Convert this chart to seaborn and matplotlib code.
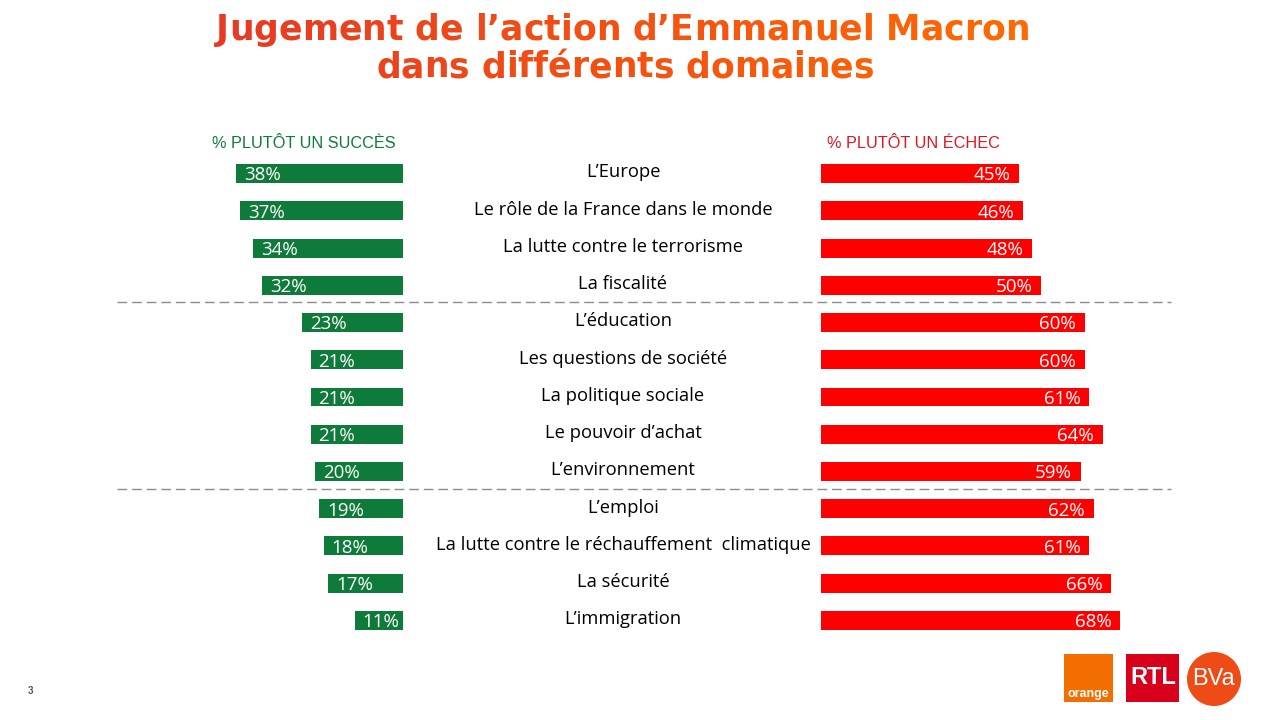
import numpy as np
import pandas as pd
import seaborn as sns
from matplotlib import pyplot as plt
from matplotlib.colors import to_rgb
from matplotlib.patches import Circle, Rectangle
from matplotlib.transforms import blended_transform_factory

categories = ["L’Europe", "Le rôle de la France dans le monde", "La lutte contre le terrorisme",
              "La fiscalité", "L’éducation", "Les questions de société", "La politique sociale",
              "Le pouvoir d’achat", "L’environnement", "L’emploi",
              "La lutte contre le réchauffement  climatique", "La sécurité", "L’immigration"]
succes = [38, 37, 34, 32, 23, 21, 21, 21, 20, 19, 18, 17, 11]
echec = [45, 46, 48, 50, 60, 60, 61, 64, 59, 62, 61, 66, 68]
title_lines = ["Jugement de l’action d’Emmanuel Macron", "dans différents domaines"]

GREEN = "#0F7B3A"
RED = "#FF0000"
W, H = 1280, 720
PX_PER_PCT = 4.4

sns.set_theme(style="white")
plt.rcParams["font.family"] = ["Open Sans", "DejaVu Sans"]

df = pd.DataFrame({"cat": categories, "succes": succes, "echec": echec})
fig = plt.figure(figsize=(12.8, 7.2), dpi=100, facecolor="white")

# background layer in pixel coordinates
bg = fig.add_axes([0, 0, 1, 1])
bg.set_xlim(0, W)
bg.set_ylim(H, 0)
bg.axis("off")


def bar_axes(x0, x1):
    return fig.add_axes([x0 / W, 1 - 639 / H, (x1 - x0) / W, (639 - 155) / H])


ax_l = bar_axes(403 - 70 * PX_PER_PCT, 403)
ax_r = bar_axes(821, 821 + 70 * PX_PER_PCT)
sns.barplot(data=df, y="cat", x="succes", color=GREEN, saturation=1, width=0.51, linewidth=0, ax=ax_l)
sns.barplot(data=df, y="cat", x="echec", color=RED, saturation=1, width=0.51, linewidth=0, ax=ax_r)
ax_l.set_xlim(70, 0)
ax_r.set_xlim(0, 70)
for ax in (ax_l, ax_r):
    ax.set_ylim(12.5, -0.5)
    ax.axis("off")
    ax.patch.set_alpha(0)

for i, (cat, s, e) in enumerate(zip(categories, succes, echec)):
    ax_l.text(s - 1.8, i + 0.05, f"{s}%", color="white", fontsize=13.5, ha="left", va="center")
    ax_r.text(e - 2, i + 0.05, f"{e}%", color="white", fontsize=13.5, ha="right", va="center")
    trans = blended_transform_factory(bg.transData, ax_l.transData)
    ax_l.text(623, i - 0.03, cat, color="black", fontsize=13.2, ha="center", va="center",
              transform=trans, clip_on=False)

# separators between the groups
for y in (302, 489):
    bg.plot([117, 1171], [y, y], color="#8c8c8c", lw=1, dashes=(7, 3.5))

bg.text(212, 143, "% PLUTÔT UN SUCCÈS", color=GREEN, fontsize=11.7, family="Liberation Sans",
        ha="left", va="center")
bg.text(827, 143, "% PLUTÔT UN ÉCHEC", color="#E2141E", fontsize=11.7, family="Liberation Sans",
        ha="left", va="center")


# title with a left to right colour gradient, one text per character
def gradient_title(text, x0, y, size=24.9, span=812):
    renderer = fig.canvas.get_renderer()
    probe = bg.text(0, 0, "x", fontsize=size, fontweight="bold", family="DejaVu Sans")
    x_w = probe.get_window_extent(renderer).width
    c0, c1 = np.array(to_rgb("#E63A24")), np.array(to_rgb("#FF6A00"))
    for i, ch in enumerate(text):
        probe.set_text(text[:i] + "x")
        start = probe.get_window_extent(renderer).width - x_w
        frac = (x0 + start - 216) / span
        bg.text(x0 + start, y, ch, fontsize=size, fontweight="bold", family="DejaVu Sans",
                color=tuple(c0 + (c1 - c0) * frac), ha="left", va="baseline")
    probe.remove()


gradient_title(title_lines[0], 216, 40)
gradient_title(title_lines[1], 376, 77)

# page number and logos
bg.text(30, 691, "3", color="#555555", fontsize=7, fontweight="bold", ha="center", va="center",
        family="Liberation Sans")
bg.add_patch(Rectangle((1064, 654), 49, 48, color="#F26E00", lw=0))
bg.text(1088, 694, "orange", color="white", fontsize=9, fontweight="bold", ha="center", va="center",
        family="Liberation Sans")
bg.add_patch(Rectangle((1126, 654), 53, 48, color="#D9001B", lw=0))
bg.text(1153, 678, "RTL", color="white", fontsize=17, fontweight="bold", ha="center", va="center",
        family="Liberation Sans")
bg.add_patch(Circle((1214, 679), 27, color="#EE4B16", lw=0))
bg.text(1214, 679, "BVa", color="white", fontsize=17, ha="center", va="center", family="Liberation Sans")

fig.savefig("out.png", dpi=100)
